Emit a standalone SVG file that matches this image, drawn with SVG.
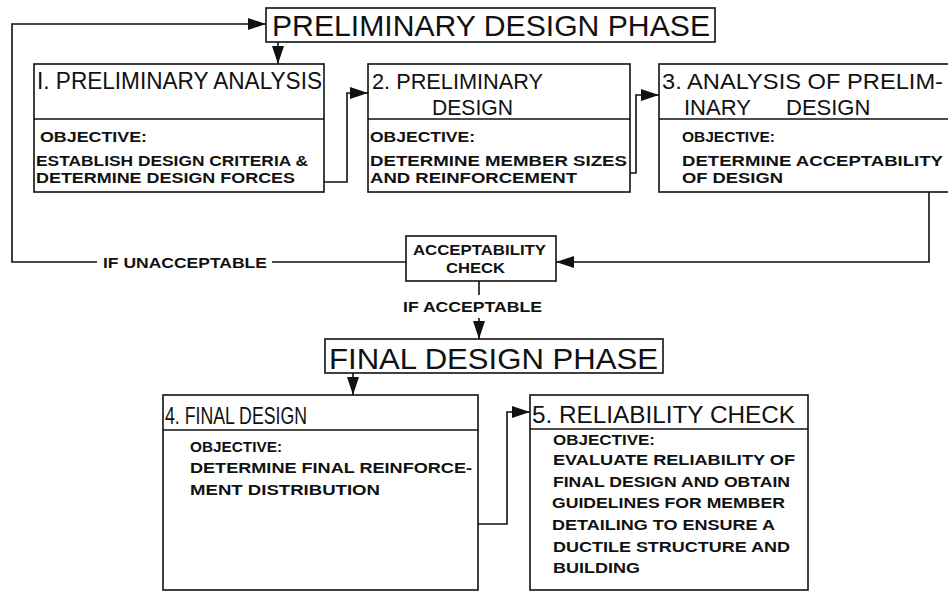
<svg xmlns="http://www.w3.org/2000/svg" width="948" height="591" viewBox="0 0 948 591">
<style>
.bx{fill:none;stroke:#111;stroke-width:1.6}
.ln{fill:none;stroke:#111;stroke-width:1.6}
.big{font-family:"Liberation Sans",Arial,sans-serif;font-size:29px;fill:#111}
.ttl{font-family:"Liberation Sans",Arial,sans-serif;font-size:24px;fill:#111}
.ttl2{font-family:"Liberation Sans",Arial,sans-serif;font-size:22px;fill:#111}
.bd{font-family:"Liberation Sans",Arial,sans-serif;font-size:14px;font-weight:bold;fill:#111}
.lb{font-family:"Liberation Sans",Arial,sans-serif;font-size:15.5px;font-weight:bold;fill:#111}
</style>
<defs>
<marker id="ah" markerUnits="userSpaceOnUse" markerWidth="18" markerHeight="12" refX="18" refY="6" orient="auto">
<path d="M0,0 L18,6 L0,12 z" fill="#111"/>
</marker>
</defs>
<rect width="948" height="591" fill="#fff"/>

<g id="prelim-phase">
<rect class="bx" x="266" y="8" width="449" height="34"/>
<text class="big" x="272" y="36" textLength="438" lengthAdjust="spacingAndGlyphs">PRELIMINARY  DESIGN  PHASE</text>
</g>

<g id="box1">
<rect class="bx" x="34" y="64" width="290" height="128"/>
<line class="ln" x1="34" y1="119" x2="324" y2="119"/>
<text class="ttl" x="37" y="89" textLength="285" lengthAdjust="spacingAndGlyphs">I. PRELIMINARY  ANALYSIS</text>
<text class="bd" x="40" y="142" textLength="107" lengthAdjust="spacingAndGlyphs">OBJECTIVE:</text>
<text class="bd" x="36" y="166" textLength="272" lengthAdjust="spacingAndGlyphs">ESTABLISH DESIGN CRITERIA &amp;</text>
<text class="bd" x="36" y="183" textLength="259" lengthAdjust="spacingAndGlyphs">DETERMINE  DESIGN FORCES</text>
</g>

<g id="box2">
<rect class="bx" x="368" y="64" width="262" height="128"/>
<line class="ln" x1="368" y1="119" x2="630" y2="119"/>
<text class="ttl2" x="372" y="89" textLength="171" lengthAdjust="spacingAndGlyphs">2. PRELIMINARY</text>
<text class="ttl2" x="432" y="115" textLength="81" lengthAdjust="spacingAndGlyphs">DESIGN</text>
<text class="bd" x="370" y="142" textLength="105" lengthAdjust="spacingAndGlyphs">OBJECTIVE:</text>
<text class="bd" x="370" y="166" textLength="257" lengthAdjust="spacingAndGlyphs">DETERMINE MEMBER SIZES</text>
<text class="bd" x="370" y="183" textLength="207" lengthAdjust="spacingAndGlyphs">AND  REINFORCEMENT</text>
</g>

<g id="box3">
<rect class="bx" x="659" y="64" width="300" height="128"/>
<line class="ln" x1="659" y1="119" x2="948" y2="119"/>
<text class="ttl2" x="662" y="89" textLength="281" lengthAdjust="spacingAndGlyphs">3. ANALYSIS OF  PRELIM-</text>
<text class="ttl2" y="115"><tspan x="684">INARY</tspan><tspan x="786">DESIGN</tspan></text>
<text class="bd" x="682" y="142" textLength="93" lengthAdjust="spacingAndGlyphs">OBJECTIVE:</text>
<text class="bd" x="682" y="166" textLength="261" lengthAdjust="spacingAndGlyphs">DETERMINE  ACCEPTABILITY</text>
<text class="bd" x="682" y="183" textLength="101" lengthAdjust="spacingAndGlyphs">OF  DESIGN</text>
</g>

<g id="accept-check">
<rect class="bx" x="406" y="236" width="150" height="45"/>
<text class="lb" x="413" y="255" textLength="133" lengthAdjust="spacingAndGlyphs">ACCEPTABILITY</text>
<text class="lb" x="446" y="273" textLength="59" lengthAdjust="spacingAndGlyphs">CHECK</text>
</g>

<g id="final-phase">
<rect class="bx" x="325" y="339" width="338" height="34"/>
<text class="big" x="329" y="369" textLength="329" lengthAdjust="spacingAndGlyphs">FINAL  DESIGN  PHASE</text>
</g>

<g id="box4">
<rect class="bx" x="163" y="395" width="315" height="195"/>
<line class="ln" x1="163" y1="430" x2="478" y2="430"/>
<text class="ttl" x="165" y="424" textLength="142" lengthAdjust="spacingAndGlyphs">4. FINAL  DESIGN</text>
<text class="bd" x="190" y="452" textLength="92" lengthAdjust="spacingAndGlyphs">OBJECTIVE:</text>
<text class="bd" x="190" y="473" textLength="282" lengthAdjust="spacingAndGlyphs">DETERMINE FINAL REINFORCE-</text>
<text class="bd" x="190" y="495" textLength="190" lengthAdjust="spacingAndGlyphs">MENT  DISTRIBUTION</text>
</g>

<g id="box5">
<rect class="bx" x="530" y="395" width="278" height="195"/>
<line class="ln" x1="530" y1="429" x2="808" y2="429"/>
<text class="ttl" x="532" y="423" textLength="263" lengthAdjust="spacingAndGlyphs">5. RELIABILITY  CHECK</text>
<text class="bd" x="553" y="445" textLength="102" lengthAdjust="spacingAndGlyphs">OBJECTIVE:</text>
<text class="bd" x="553" y="465" textLength="242" lengthAdjust="spacingAndGlyphs">EVALUATE  RELIABILITY OF</text>
<text class="bd" x="553" y="487" textLength="237" lengthAdjust="spacingAndGlyphs">FINAL DESIGN AND OBTAIN</text>
<text class="bd" x="552" y="508" textLength="233" lengthAdjust="spacingAndGlyphs">GUIDELINES FOR MEMBER</text>
<text class="bd" x="552" y="530" textLength="223" lengthAdjust="spacingAndGlyphs">DETAILING TO ENSURE A</text>
<text class="bd" x="553" y="552" textLength="237" lengthAdjust="spacingAndGlyphs">DUCTILE STRUCTURE AND</text>
<text class="bd" x="553" y="573" textLength="87" lengthAdjust="spacingAndGlyphs">BUILDING</text>
</g>

<g id="connectors">
<path class="ln" d="M97,262 H12 V24 H266" marker-end="url(#ah)"/>
<line class="ln" x1="406" y1="262" x2="272" y2="262"/>
<text class="lb" x="103" y="268" textLength="164" lengthAdjust="spacingAndGlyphs">IF  UNACCEPTABLE</text>
<path class="ln" d="M278,42 V64" marker-end="url(#ah)"/>
<path class="ln" d="M324,182 H347 V93 H368" marker-end="url(#ah)"/>
<path class="ln" d="M630,173 H636 V95 H659" marker-end="url(#ah)"/>
<path class="ln" d="M929,192 V262 H556" marker-end="url(#ah)"/>
<line class="ln" x1="479" y1="281" x2="479" y2="295"/>
<text class="lb" x="403" y="312" textLength="139" lengthAdjust="spacingAndGlyphs">IF  ACCEPTABLE</text>
<path class="ln" d="M479,318 V339" marker-end="url(#ah)"/>
<path class="ln" d="M353,373 V395" marker-end="url(#ah)"/>
<path class="ln" d="M478,524 H507 V412 H530" marker-end="url(#ah)"/>
</g>
</svg>
